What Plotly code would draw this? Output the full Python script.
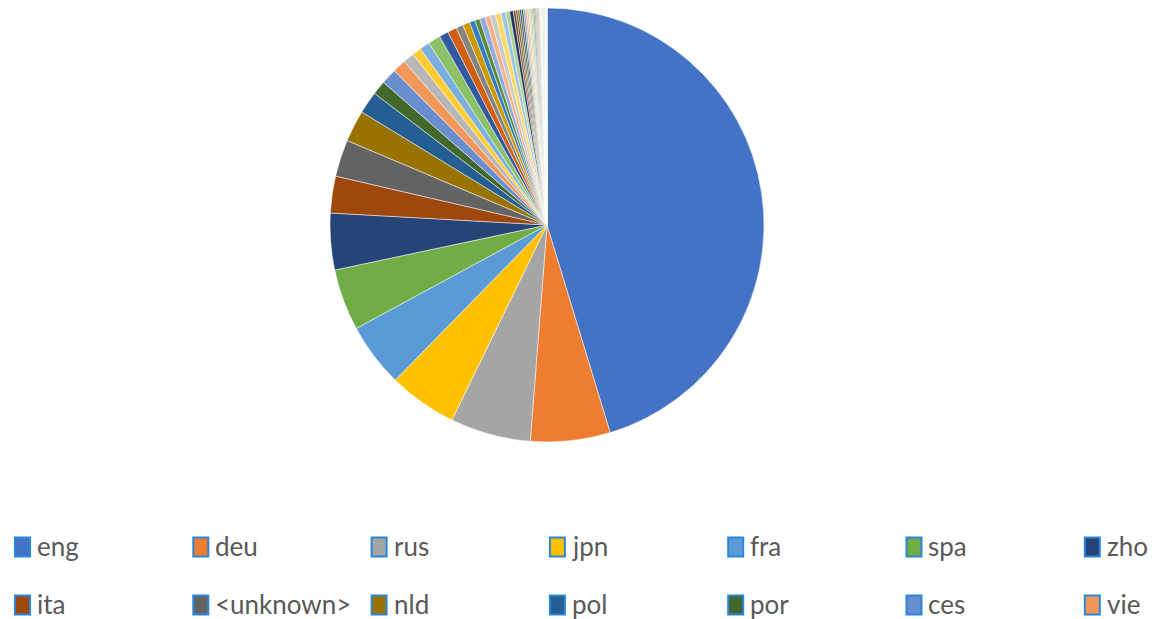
import colorsys
import plotly.graph_objects as go

# Language share of the collection (percent), in plotting order
languages = [
    "eng", "deu", "rus", "jpn", "fra", "spa", "zho", "ita", "<unknown>", "nld",
    "pol", "por", "ces", "vie",
    "swe", "kor", "tur", "hun", "fin", "dan", "ara", "heb", "ukr", "nor",
    "ell", "ron", "ind", "tha", "cat", "bul", "hrv", "fas", "slk", "srp",
    "lit", "slv", "hin", "est", "lav", "ben", "msa", "eus", "glg", "isl",
    "epo", "lat", "tam", "urd", "kat", "hye", "bel", "mkd", "aze", "kaz",
    "tgl", "afr", "gle", "cym", "sqi", "mon", "bos", "nep", "mar", "tel",
    "kan", "mal", "guj", "pan", "swa", "yid",
]
shares = [
    45.32, 5.93, 5.99, 5.11, 4.77, 4.58, 4.21, 2.74, 2.75, 2.35,
    1.66, 1.04, 1.17, 0.99,
    0.83, 0.68, 0.75, 0.93, 0.69, 0.68, 0.53, 0.53, 0.42, 0.36,
    0.42, 0.39, 0.39, 0.42, 0.36, 0.28, 0.28,
    0.17, 0.15, 0.15, 0.14, 0.14, 0.14, 0.125, 0.125, 0.125, 0.11, 0.11,
    0.083, 0.078, 0.072, 0.067, 0.061, 0.056, 0.053, 0.05, 0.047, 0.044,
    0.042, 0.039, 0.036, 0.033, 0.031, 0.028, 0.025, 0.022, 0.019, 0.019,
    0.017, 0.017, 0.014, 0.014, 0.011, 0.011, 0.008, 0.008,
]
legend_count = 14  # entries that fit in the legend area

# Office theme accents and their shade/tint variations
accents = ["#4472C4", "#ED7D31", "#A5A5A5", "#FFC000", "#5B9BD5", "#70AD47"]
variations = [(1.0, 0.0), (0.6, 0.0), (0.8, 0.2), (0.8, 0.0), (0.6, 0.4),
              (0.5, 0.0), (0.7, 0.3), (0.7, 0.0), (0.5, 0.5)]


def shade(hex_color, lum_mod, lum_off):
    r, g, b = (int(hex_color[i:i + 2], 16) / 255 for i in (1, 3, 5))
    h, l, s = colorsys.rgb_to_hls(r, g, b)
    l = min(1.0, l * lum_mod + lum_off)
    r, g, b = colorsys.hls_to_rgb(h, l, s)
    return "#%02X%02X%02X" % (round(r * 255), round(g * 255), round(b * 255))


palette = [shade(c, m, o) for (m, o) in variations for c in accents]
colors = [palette[i % len(palette)] for i in range(len(languages))]

W, H = 1160, 619
cx, cy, rad = 547, 225, 217

fig = go.Figure(go.Pie(
    labels=languages,
    values=shares,
    sort=False,
    direction="clockwise",
    rotation=0,
    textinfo="none",
    marker=dict(colors=colors, line=dict(color="white", width=0.5)),
    domain=dict(x=[(cx - rad) / W, (cx + rad) / W],
                y=[(H - cy - rad) / H, (H - cy + rad) / H]),
    showlegend=False,
))

# Legend: 7 columns x 2 rows under the pie
shapes, annotations = [], []
col_x0, col_step = 15, 178.3
row_y0, row_step = 547, 58
mw, mh = 15, 19
for i in range(legend_count):
    col, row = i % 7, i // 7
    x0 = col_x0 + col * col_step
    yc = row_y0 + row * row_step
    shapes.append(dict(
        type="rect", xref="paper", yref="paper",
        x0=x0 / W, x1=(x0 + mw) / W,
        y0=(H - yc - mh / 2) / H, y1=(H - yc + mh / 2) / H,
        fillcolor=colors[i], line=dict(color="#2A86DB", width=2),
    ))
    annotations.append(dict(
        x=(x0 + mw + 6) / W, y=(H - yc + 1) / H, xref="paper", yref="paper",
        text=languages[i].replace("<", "&lt;").replace(">", "&gt;"),
        showarrow=False, xanchor="left", yanchor="middle", borderpad=0,
        font=dict(family="Lato", size=26, color="#595959"),
    ))

fig.update_layout(
    width=W, height=H,
    margin=dict(l=0, r=0, t=0, b=0),
    paper_bgcolor="white", plot_bgcolor="white",
    shapes=shapes, annotations=annotations,
)

fig.write_html("out.html")
